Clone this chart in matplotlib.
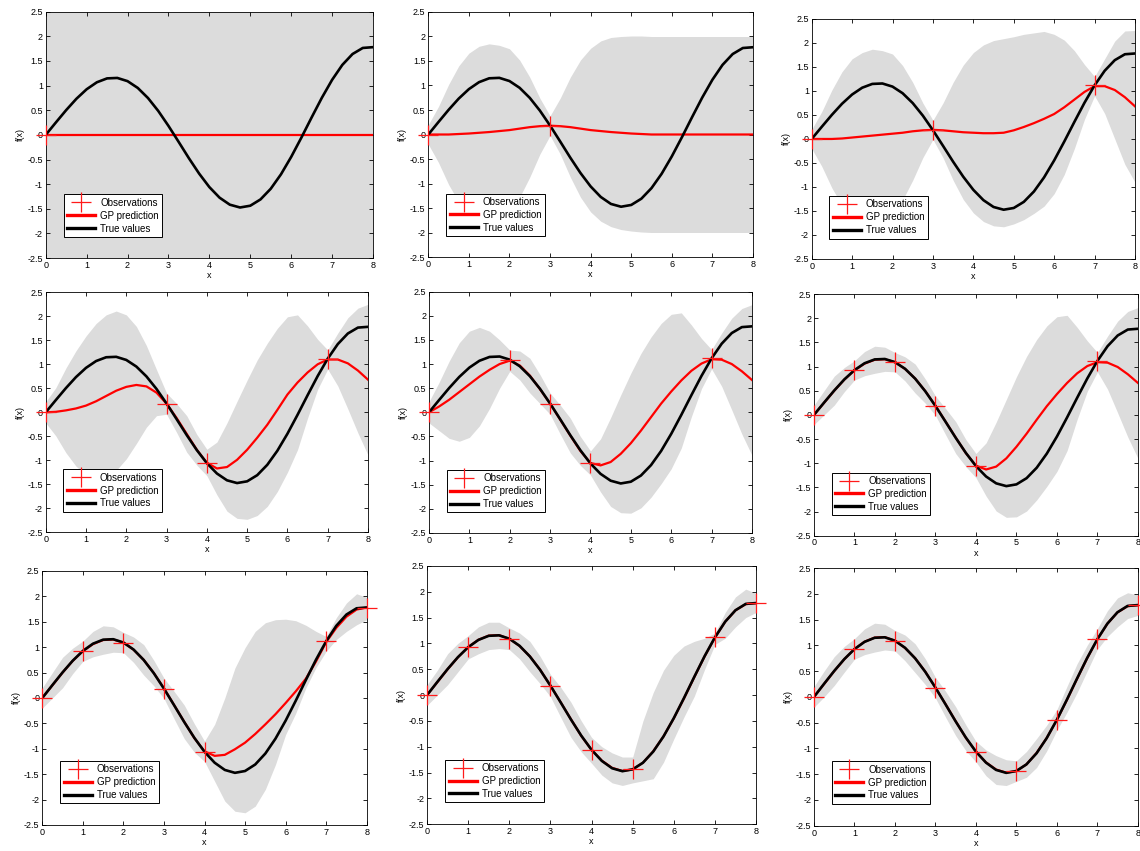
import matplotlib
matplotlib.use("Agg")
import matplotlib.pyplot as plt

plt.rcParams['font.family'] = ['Liberation Sans', 'DejaVu Sans']
plt.rcParams['axes.unicode_minus'] = False

# grid the curves were read on
X = [0, 0.25, 0.5, 0.75, 1, 1.25, 1.5, 1.75, 2, 2.25, 2.5, 2.75, 3, 3.25, 3.5, 3.75,
     4, 4.25, 4.5, 4.75, 5, 5.25, 5.5, 5.75, 6, 6.25, 6.5, 6.75, 7, 7.25, 7.5, 7.75, 8]

TRUE_Y = [0.0, 0.254, 0.503, 0.733, 0.926, 1.068, 1.147, 1.156, 1.091, 0.953, 0.748, 0.487,
          0.183, -0.143, -0.474, -0.786, -1.060, -1.275, -1.417, -1.474, -1.438, -1.310,
          -1.094, -0.801, -0.447, -0.054, 0.355, 0.754, 1.117, 1.421, 1.642, 1.765, 1.781]

# panel 1 : prior only
X_1 = [0, 8]
MEAN_1 = [0.0, 0.0]
LO_1 = [-2.5, -2.5]
HI_1 = [2.5, 2.5]

# panel 2
MEAN_2 = [0, 0, 0, 0.01, 0.02, 0.035, 0.05, 0.07, 0.09, 0.12, 0.15, 0.17, 0.18, 0.17, 0.15,
          0.12, 0.09, 0.07, 0.05, 0.035, 0.02, 0.01, 0, 0, 0, 0, 0, 0, 0, 0, 0, 0, 0]
HI_2 = [0.2, 0.57, 1.02, 1.40, 1.66, 1.80, 1.85, 1.82, 1.75, 1.52, 1.17, 0.74, 0.38, 0.74,
        1.17, 1.52, 1.76, 1.91, 1.98, 2.0, 2.01, 2.01, 2.0, 2.0, 2.0, 2.0, 2.0, 2.0, 2.0,
        2.0, 2.0, 2.0, 2.0]
LO_2 = [-0.2, -0.57, -1.02, -1.38, -1.62, -1.73, -1.75, -1.68, -1.57, -1.28, -0.87, -0.40,
        -0.02, -0.40, -0.87, -1.28, -1.58, -1.77, -1.88, -1.94, -1.97, -1.99, -2.0, -2.0,
        -2.0, -2.0, -2.0, -2.0, -2.0, -2.0, -2.0, -2.0, -2.0]

# panel 3
MEAN_3 = [0, 0, 0, 0.01, 0.03, 0.05, 0.07, 0.09, 0.11, 0.13, 0.16, 0.18, 0.19, 0.18, 0.16,
          0.14, 0.13, 0.12, 0.12, 0.13, 0.18, 0.25, 0.33, 0.42, 0.52, 0.66, 0.82, 0.98,
          1.10, 1.10, 1.02, 0.87, 0.68]
HI_3 = [0.2, 0.57, 1.02, 1.40, 1.67, 1.80, 1.87, 1.84, 1.77, 1.53, 1.18, 0.75, 0.39, 0.75,
        1.18, 1.54, 1.80, 1.96, 2.05, 2.09, 2.13, 2.18, 2.21, 2.24, 2.18, 2.06, 1.84, 1.55,
        1.30, 1.67, 2.04, 2.25, 2.26]
LO_3 = [-0.2, -0.57, -1.02, -1.38, -1.61, -1.70, -1.73, -1.66, -1.55, -1.27, -0.86, -0.39,
        -0.01, -0.39, -0.86, -1.26, -1.54, -1.72, -1.81, -1.83, -1.77, -1.68, -1.55, -1.40,
        -1.14, -0.74, -0.20, 0.41, 0.90, 0.53, 0.0, -0.53, -0.90]

# panel 4
MEAN_4 = [0, 0.01, 0.04, 0.08, 0.14, 0.23, 0.34, 0.45, 0.53, 0.57, 0.54, 0.41, 0.18, -0.12,
          -0.45, -0.78, -1.05, -1.17, -1.14, -0.99, -0.78, -0.53, -0.26, 0.05, 0.37, 0.62,
          0.83, 1.0, 1.1, 1.1, 1.02, 0.87, 0.68]
HI_4 = [0.22, 0.51, 0.92, 1.28, 1.59, 1.85, 2.03, 2.11, 2.03, 1.79, 1.39, 0.89, 0.40, 0.18,
        -0.07, -0.46, -0.77, -0.62, -0.22, 0.23, 0.67, 1.09, 1.44, 1.75, 1.99, 2.03, 1.80,
        1.52, 1.30, 1.65, 1.97, 2.17, 2.25]
LO_4 = [-0.22, -0.49, -0.84, -1.12, -1.31, -1.39, -1.35, -1.21, -0.97, -0.65, -0.31, -0.07,
        -0.04, -0.42, -0.83, -1.10, -1.32, -1.72, -2.06, -2.21, -2.23, -2.15, -1.96, -1.65,
        -1.25, -0.78, -0.12, 0.48, 0.90, 0.55, 0.07, -0.43, -0.89]

# panel 5
MEAN_5 = [0, 0.12, 0.26, 0.42, 0.58, 0.74, 0.88, 1.0, 1.07, 0.97, 0.76, 0.48, 0.18, -0.15,
          -0.48, -0.8, -1.05, -1.1, -1.03, -0.86, -0.64, -0.38, -0.1, 0.18, 0.43, 0.66,
          0.86, 1.01, 1.1, 1.09, 1.0, 0.85, 0.67]
HI_5 = [0.22, 0.62, 1.06, 1.44, 1.68, 1.76, 1.68, 1.5, 1.29, 1.27, 1.12, 0.78, 0.40, 0.15,
        -0.12, -0.5, -0.8, -0.55, -0.11, 0.36, 0.81, 1.22, 1.56, 1.84, 2.03, 2.06, 1.81,
        1.53, 1.3, 1.64, 1.95, 2.15, 2.23]
LO_5 = [-0.22, -0.38, -0.54, -0.60, -0.52, -0.28, 0.08, 0.5, 0.85, 0.67, 0.40, 0.18, -0.04,
        -0.45, -0.84, -1.1, -1.3, -1.65, -1.95, -2.08, -2.09, -1.98, -1.76, -1.48, -1.17,
        -0.74, -0.09, 0.49, 0.9, 0.54, 0.05, -0.45, -0.89]

# panel 6
MEAN_6 = [0, 0.25, 0.5, 0.73, 0.92, 1.06, 1.14, 1.15, 1.09, 0.95, 0.75, 0.49, 0.19, -0.14,
          -0.47, -0.79, -1.05, -1.13, -1.07, -0.9, -0.66, -0.39, -0.1, 0.18, 0.43, 0.66,
          0.86, 1.01, 1.09, 1.08, 0.99, 0.84, 0.66]
HI_6 = [0.2, 0.5, 0.8, 0.98, 1.12, 1.31, 1.42, 1.40, 1.29, 1.2, 1.05, 0.74, 0.39, 0.13,
        -0.14, -0.51, -0.8, -0.58, -0.15, 0.32, 0.79, 1.21, 1.56, 1.84, 2.03, 2.06, 1.81,
        1.53, 1.29, 1.63, 1.94, 2.14, 2.22]
LO_6 = [-0.2, 0.0, 0.2, 0.48, 0.72, 0.81, 0.86, 0.90, 0.89, 0.7, 0.45, 0.24, -0.01, -0.41,
        -0.8, -1.07, -1.3, -1.68, -1.99, -2.12, -2.11, -1.99, -1.76, -1.48, -1.17, -0.74,
        -0.09, 0.49, 0.89, 0.53, 0.04, -0.46, -0.9]

# panel 7
MEAN_7 = [0, 0.25, 0.5, 0.73, 0.92, 1.06, 1.14, 1.15, 1.09, 0.95, 0.75, 0.49, 0.19, -0.14,
          -0.47, -0.79, -1.05, -1.14, -1.12, -1.01, -0.88, -0.71, -0.52, -0.32, -0.1, 0.13,
          0.38, 0.72, 1.1, 1.38, 1.6, 1.74, 1.78]
HI_7 = [0.2, 0.5, 0.8, 0.98, 1.12, 1.31, 1.42, 1.40, 1.29, 1.2, 1.05, 0.74, 0.39, 0.13,
        -0.14, -0.51, -0.85, -0.52, 0.0, 0.59, 0.99, 1.31, 1.48, 1.54, 1.55, 1.52, 1.43,
        1.31, 1.21, 1.58, 1.87, 2.05, 1.98]
LO_7 = [-0.2, 0.0, 0.2, 0.48, 0.72, 0.81, 0.86, 0.90, 0.89, 0.7, 0.45, 0.24, -0.01, -0.41,
        -0.8, -1.07, -1.25, -1.64, -2.03, -2.23, -2.26, -2.13, -1.8, -1.31, -0.72, -0.3,
        0.2, 0.6, 0.92, 1.15, 1.31, 1.44, 1.54]

# panel 8
MEAN_8 = [0, 0.25, 0.5, 0.73, 0.93, 1.07, 1.15, 1.16, 1.09, 0.95, 0.75, 0.49, 0.18, -0.14,
          -0.47, -0.79, -1.06, -1.27, -1.41, -1.47, -1.44, -1.31, -1.09, -0.8, -0.45, -0.06,
          0.35, 0.75, 1.11, 1.42, 1.64, 1.76, 1.78]
HI_8 = [0.2, 0.48, 0.8, 1.0, 1.15, 1.32, 1.41, 1.41, 1.3, 1.2, 1.04, 0.75, 0.4, 0.15, -0.14,
        -0.5, -0.82, -1.0, -1.12, -1.2, -1.2, -0.5, 0.05, 0.48, 0.77, 0.95, 1.04, 1.1, 1.2,
        1.6, 1.9, 2.05, 1.97]
LO_8 = [-0.2, 0.0, 0.2, 0.45, 0.7, 0.8, 0.88, 0.9, 0.88, 0.7, 0.45, 0.22, -0.03, -0.43,
        -0.82, -1.1, -1.32, -1.55, -1.7, -1.75, -1.7, -1.66, -1.62, -1.3, -0.85, -0.42,
        -0.02, 0.5, 0.98, 1.1, 1.32, 1.5, 1.6]

# panel 9
MEAN_9 = [0, 0.25, 0.5, 0.73, 0.93, 1.07, 1.15, 1.16, 1.09, 0.95, 0.75, 0.49, 0.18, -0.14,
          -0.47, -0.79, -1.06, -1.27, -1.41, -1.47, -1.44, -1.31, -1.09, -0.8, -0.45, -0.06,
          0.35, 0.75, 1.11, 1.42, 1.64, 1.76, 1.78]
HI_9 = [0.2, 0.50, 0.78, 0.98, 1.13, 1.32, 1.43, 1.41, 1.29, 1.20, 1.03, 0.74, 0.38, 0.11,
        -0.19, -0.54, -0.86, -1.03, -1.14, -1.22, -1.24, -1.06, -0.81, -0.55, -0.25, 0.20,
        0.64, 1.0, 1.32, 1.67, 1.92, 2.02, 1.98]
LO_9 = [-0.2, 0.0, 0.22, 0.48, 0.73, 0.82, 0.87, 0.91, 0.89, 0.70, 0.47, 0.24, -0.02, -0.39,
        -0.75, -1.04, -1.26, -1.53, -1.70, -1.72, -1.64, -1.56, -1.37, -1.05, -0.65, -0.30,
        0.08, 0.50, 0.92, 1.17, 1.36, 1.52, 1.58]

# observations
OBS_X_1, OBS_Y_1 = [0], [0.0]
OBS_X_2, OBS_Y_2 = [0, 3], [0.0, 0.18]
OBS_X_3, OBS_Y_3 = [0, 3, 7], [0.0, 0.18, 1.12]
OBS_X_4, OBS_Y_4 = [0, 3, 4, 7], [0.0, 0.18, -1.06, 1.12]
OBS_X_5, OBS_Y_5 = [0, 2, 3, 4, 7], [0.0, 1.09, 0.18, -1.06, 1.12]
OBS_X_6, OBS_Y_6 = [0, 1, 2, 3, 4, 7], [0.0, 0.93, 1.09, 0.18, -1.06, 1.12]
OBS_X_7, OBS_Y_7 = [0, 1, 2, 3, 4, 7, 8], [0.0, 0.93, 1.09, 0.18, -1.06, 1.12, 1.78]
OBS_X_8, OBS_Y_8 = [0, 1, 2, 3, 4, 5, 7, 8], [0.0, 0.93, 1.09, 0.18, -1.06, -1.44, 1.12, 1.78]
OBS_X_9 = [0, 1, 2, 3, 4, 5, 6, 7, 8]
OBS_Y_9 = [0.0, 0.93, 1.09, 0.18, -1.06, -1.44, -0.45, 1.12, 1.78]

YTICKS = [-2.5, -2, -1.5, -1, -0.5, 0, 0.5, 1, 1.5, 2, 2.5]
YTICK_LABELS = ['-2.5', '-2', '-1.5', '-1', '-0.5', '0', '0.5', '1', '1.5', '2', '2.5']
XTICKS = [0, 1, 2, 3, 4, 5, 6, 7, 8]

PANELS = [
    (X_1, MEAN_1, LO_1, HI_1, OBS_X_1, OBS_Y_1),
    (X, MEAN_2, LO_2, HI_2, OBS_X_2, OBS_Y_2),
    (X, MEAN_3, LO_3, HI_3, OBS_X_3, OBS_Y_3),
    (X, MEAN_4, LO_4, HI_4, OBS_X_4, OBS_Y_4),
    (X, MEAN_5, LO_5, HI_5, OBS_X_5, OBS_Y_5),
    (X, MEAN_6, LO_6, HI_6, OBS_X_6, OBS_Y_6),
    (X, MEAN_7, LO_7, HI_7, OBS_X_7, OBS_Y_7),
    (X, MEAN_8, LO_8, HI_8, OBS_X_8, OBS_Y_8),
    (X, MEAN_9, LO_9, HI_9, OBS_X_9, OBS_Y_9),
]

# axes boxes [left, bottom, width, height] in figure fractions
BOXES = [
    [0.0401, 0.6968, 0.2871, 0.2894], [0.3757, 0.6980, 0.2848, 0.2879], [0.7120, 0.6957, 0.2836, 0.2820],
    [0.0401, 0.3745, 0.2827, 0.2820], [0.3763, 0.3737, 0.2833, 0.2836], [0.7140, 0.3705, 0.2842, 0.2840],
    [0.0371, 0.0306, 0.2846, 0.2985], [0.3746, 0.0315, 0.2886, 0.3035], [0.7140, 0.0297, 0.2840, 0.3028],
]

fig = plt.figure(figsize=(11.4, 8.51), dpi=100)

for box, (xs, mean, lo, hi, ox, oy) in zip(BOXES, PANELS):
    ax = fig.add_axes(box)
    ax.fill_between(xs, lo, hi, color='#dcdcdc', linewidth=0, zorder=1)
    l_gp, = ax.plot(xs, mean, color='#ff0000', linewidth=1.6, zorder=2,
                    solid_joinstyle='round')
    l_true, = ax.plot(X, TRUE_Y, color='black', linewidth=1.9, zorder=3,
                      solid_joinstyle='round')
    l_obs, = ax.plot(ox, oy, linestyle='none', marker='+', color='#ff1a1a',
                     markersize=15, markeredgewidth=0.9, zorder=4, clip_on=False)

    ax.set_xlim(0, 8)
    ax.set_ylim(-2.5, 2.5)
    ax.set_xticks(XTICKS)
    ax.set_yticks(YTICKS)
    ax.set_yticklabels(YTICK_LABELS)
    ax.tick_params(direction='in', top=True, right=True, length=3, width=0.6,
                   labelsize=6.5, pad=2)
    for s in ax.spines.values():
        s.set_linewidth(0.6)
    ax.set_xlabel('x', fontsize=6.5, labelpad=1)
    ax.set_ylabel('f(x)', fontsize=6.5, labelpad=2)

    leg = ax.legend([l_obs, l_gp, l_true], ['Observations', 'GP prediction', 'True values'],
                    loc='lower left', bbox_to_anchor=(0.055, 0.085), borderaxespad=0,
                    fontsize=7, fancybox=False, framealpha=1, edgecolor='black',
                    handlelength=2.9, handletextpad=0.5, borderpad=0.35, labelspacing=0.3)
    leg.get_frame().set_linewidth(0.7)
    for h in leg.get_lines()[1:]:
        h.set_linewidth(2.4)

fig.savefig('out.png', dpi=100)
